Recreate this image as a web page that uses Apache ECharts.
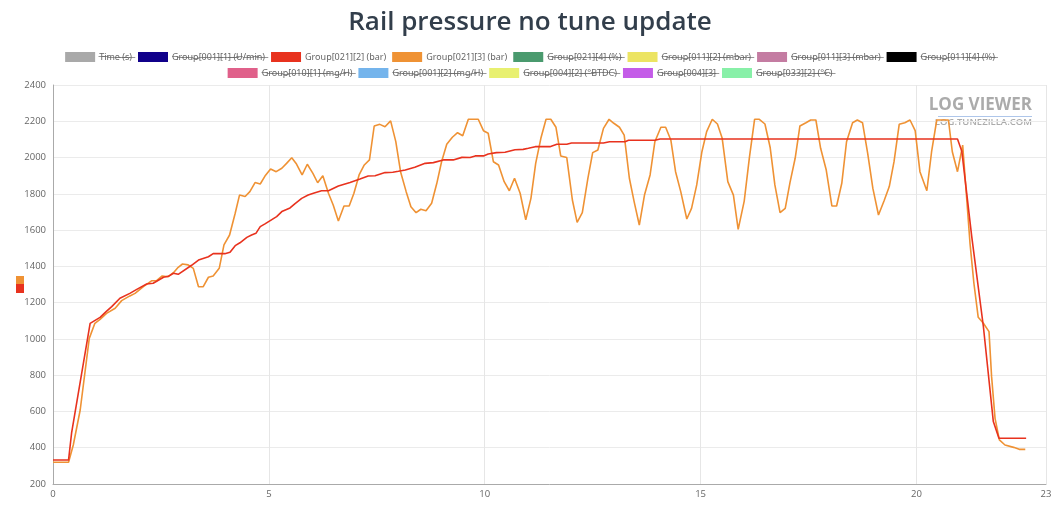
<!DOCTYPE html>
<html>
<head>
<meta charset="utf-8">
<title>Rail pressure no tune update</title>
<script src="https://cdn.jsdelivr.net/npm/echarts@6/dist/echarts.min.js"></script>
<style>
    html, body { margin: 0; padding: 0; background: #fff; }
    #chart-container { width: 1060px; height: 505px; }
</style>
</head>
<body>
<div id="chart-container"></div>
<script>
    'use strict';

    // legend entries, in log order (only the two rail pressure channels are shown)
    var seriesNames = [
        'Time (s)', 'Group[001][1] (U/min)', 'Group[021][2] (bar)', 'Group[021][3] (bar)',
        'Group[021][4] (%)', 'Group[011][2] (mbar)', 'Group[011][3] (mbar)', 'Group[011][4] (%)',
        'Group[010][1] (mg/H)', 'Group[001][2] (mg/H)', 'Group[004][2] (°BTDC)', 'Group[004][3]',
        'Group[033][2] (°C)'
    ];
    var seriesColors = [
        '#a9a9a9', '#10008a', '#e8321e', '#ef9234',
        '#4a9a6e', '#ece462', '#c47ca2', '#000000',
        '#e0608a', '#74b4ec', '#e8f070', '#c45ce8',
        '#88f0a8'
    ];
    var visibleNames = ['Group[021][2] (bar)', 'Group[021][3] (bar)'];
    var legendRowBreak = 8;

    // Group[021][2] (bar) - specified rail pressure
    var timeSpec = [0, 0.36, 0.43, 0.86, 1.09, 1.23, 1.36, 1.55, 1.78, 1.94,
        2.17, 2.32, 2.56, 2.67, 2.79, 2.90, 3.21, 3.37, 3.60, 3.71,
        3.98, 4.10, 4.22, 4.33, 4.49, 4.60, 4.70, 4.80, 4.91, 5.18,
        5.30, 5.49, 5.60, 5.76, 5.91, 6.05, 6.22, 6.38, 6.61, 6.88,
        7.11, 7.30, 7.46, 7.69, 7.87, 8.00, 8.16, 8.38, 8.62, 8.81,
        9.04, 9.27, 9.47, 9.66, 9.78, 9.97, 10.08, 10.27, 10.47, 10.70,
        10.89, 11.01, 11.17, 11.51, 11.67, 11.90, 12.01, 12.75, 12.89, 13.25,
        13.33, 13.94, 14.06, 20.95, 21.05, 21.28, 21.55, 21.78, 21.91, 22.54];
    var railSpec = [332, 332, 480, 1086, 1119, 1150, 1178, 1224, 1251, 1273,
        1303, 1307, 1340, 1345, 1362, 1356, 1406, 1435, 1453, 1470,
        1470, 1478, 1514, 1530, 1560, 1573, 1582, 1619, 1634, 1674,
        1702, 1722, 1745, 1775, 1793, 1805, 1817, 1817, 1843, 1863,
        1882, 1898, 1900, 1917, 1919, 1924, 1931, 1946, 1968, 1972,
        1987, 1987, 2001, 2000, 2009, 2009, 2020, 2027, 2029, 2043,
        2045, 2051, 2060, 2060, 2073, 2073, 2080, 2080, 2087, 2087,
        2095, 2095, 2102, 2102, 2035, 1564, 1067, 544, 452, 452];

    // Group[021][3] (bar) - actual rail pressure
    var timeAct = [0, 0.36, 0.47, 0.63, 0.84, 0.97, 1.09, 1.24, 1.44, 1.59,
        1.78, 1.90, 2.10, 2.29, 2.40, 2.53, 2.67, 2.79, 2.90, 3.00,
        3.13, 3.25, 3.37, 3.48, 3.60, 3.71, 3.85, 3.96, 4.09, 4.22,
        4.32, 4.45, 4.56, 4.68, 4.80, 4.91, 5.04, 5.17, 5.30, 5.41,
        5.53, 5.64, 5.77, 5.89, 6.02, 6.13, 6.25, 6.38, 6.49, 6.61,
        6.74, 6.86, 6.97, 7.09, 7.21, 7.33, 7.44, 7.57, 7.69, 7.82,
        7.94, 8.05, 8.18, 8.29, 8.41, 8.52, 8.64, 8.77, 8.89, 9.00,
        9.12, 9.25, 9.37, 9.49, 9.62, 9.74, 9.85, 9.97, 10.08, 10.20,
        10.32, 10.45, 10.57, 10.69, 10.82, 10.95, 11.07, 11.18, 11.30, 11.42,
        11.53, 11.65, 11.76, 11.90, 12.03, 12.14, 12.26, 12.39, 12.50, 12.62,
        12.75, 12.88, 12.99, 13.12, 13.23, 13.35, 13.46, 13.58, 13.70, 13.83,
        13.94, 14.08, 14.19, 14.31, 14.42, 14.54, 14.68, 14.79, 14.91, 15.03,
        15.14, 15.27, 15.39, 15.50, 15.63, 15.76, 15.87, 16.01, 16.13, 16.25,
        16.36, 16.49, 16.61, 16.72, 16.84, 16.96, 17.07, 17.19, 17.30, 17.44,
        17.55, 17.67, 17.78, 17.91, 18.04, 18.15, 18.27, 18.38, 18.52, 18.63,
        18.75, 18.87, 18.99, 19.12, 19.25, 19.37, 19.48, 19.60, 19.73, 19.85,
        19.97, 20.08, 20.24, 20.35, 20.47, 20.58, 20.74, 20.83, 20.95, 21.07,
        21.16, 21.24, 21.33, 21.43, 21.55, 21.68, 21.74, 21.82, 21.92, 22.05,
        22.25, 22.38, 22.52];
    var railAct = [320, 320, 415, 608, 1003, 1086, 1108, 1141, 1169, 1211,
        1237, 1251, 1290, 1321, 1321, 1347, 1343, 1365, 1395, 1413,
        1408, 1389, 1288, 1288, 1340, 1347, 1389, 1518, 1573, 1693,
        1793, 1785, 1812, 1862, 1854, 1898, 1937, 1922, 1941, 1968,
        1999, 1964, 1904, 1963, 1913, 1861, 1900, 1803, 1738, 1650,
        1733, 1733, 1803, 1904, 1959, 1987, 2174, 2183, 2170, 2202,
        2088, 1922, 1812, 1729, 1696, 1715, 1707, 1748, 1858, 1977,
        2073, 2112, 2137, 2120, 2211, 2211, 2211, 2148, 2134, 1977,
        1959, 1867, 1817, 1886, 1803, 1656, 1775, 1968, 2106, 2211,
        2211, 2167, 2009, 2000, 1766, 1643, 1696, 1886, 2027, 2042,
        2161, 2211, 2189, 2167, 2124, 1886, 1757, 1628, 1793, 1904,
        2087, 2167, 2167, 2097, 1922, 1812, 1661, 1720, 1849, 2032,
        2143, 2211, 2185, 2106, 1867, 1793, 1604, 1760, 2000, 2211,
        2211, 2185, 2057, 1849, 1696, 1720, 1862, 1996, 2174, 2192,
        2207, 2207, 2051, 1931, 1733, 1733, 1858, 2087, 2192, 2207,
        2192, 2023, 1830, 1683, 1762, 1840, 1977, 2183, 2192, 2207,
        2148, 1922, 1817, 2032, 2207, 2207, 2207, 2032, 1922, 2069,
        1784, 1527, 1307, 1119, 1086, 1040, 792, 562, 443, 415,
        402, 391, 391];

    var xTicks = {min: 0, max: 23, interval: 5};
    var yTicks = {min: 200, max: 2400, interval: 200};

    function zip(xs, ys) {
        return xs.map(function(x, i) { return [x, ys[i]]; });
    }

    // hidden datasets get a struck-through label, like the original log viewer
    function strike(text) {
        return text.split('').map(function(c) { return c + '\u0336'; }).join('');
    }

    var dataByName = {
        'Group[021][2] (bar)': zip(timeSpec, railSpec),
        'Group[021][3] (bar)': zip(timeAct, railAct)
    };

    var series = seriesNames.map(function(name, i) {
        return {
            name: name,
            type: 'line',
            data: dataByName[name] || [],
            showSymbol: false,
            color: seriesColors[i],
            lineStyle: {width: 1.6, color: seriesColors[i]},
            z: name === 'Group[021][2] (bar)' ? 3 : 2
        };
    });

    // two centred legend rows
    function legendRow(names, top) {
        return {
            data: names,
            top: top,
            left: 'center',
            itemWidth: 30,
            itemHeight: 10,
            itemGap: 6,
            icon: 'rect',
            textStyle: {fontSize: 9, lineHeight: 10, color: '#666', fontFamily: '"Noto Sans"', padding: [0, 0, 0, -1]},
            formatter: function(name) {
                return visibleNames.indexOf(name) >= 0 ? name : strike(name);
            },
            selectedMode: false
        };
    }

    var chart = echarts.init(document.getElementById('chart-container'));
    chart.setOption({
        animation: false,
        textStyle: {fontFamily: 'Open Sans'},
        title: {
            text: 'Rail pressure no tune update',
            left: 'center',
            top: 5,
            textStyle: {fontFamily: 'Open Sans', fontSize: 26, fontWeight: 600, color: '#323e4b'}
        },
        legend: [
            legendRow(seriesNames.slice(0, legendRowBreak), 47),
            legendRow(seriesNames.slice(legendRowBreak), 63)
        ],
        grid: {left: 53, right: 14, top: 85, bottom: 21, containLabel: false},
        xAxis: {
            type: 'value',
            min: xTicks.min,
            max: xTicks.max,
            interval: xTicks.interval,
            axisLine: {lineStyle: {color: '#aaa'}},
            axisTick: {show: false},
            axisLabel: {color: '#666', fontSize: 9.5, margin: 5, showMaxLabel: true},
            splitLine: {lineStyle: {color: '#e6e6e6'}}
        },
        yAxis: {
            type: 'value',
            min: yTicks.min,
            max: yTicks.max,
            interval: yTicks.interval,
            axisLine: {show: true, lineStyle: {color: '#aaa'}},
            axisTick: {show: false},
            axisLabel: {
                color: '#666', fontSize: 9.5, margin: 7,
                formatter: function(v) { return String(v); }
            },
            splitLine: {lineStyle: {color: '#ebebeb'}}
        },
        graphic: [
            // colour keys of the two y scales
            {type: 'rect', left: 16, top: 276, shape: {width: 8, height: 8}, style: {fill: '#ef9234'}},
            {type: 'rect', left: 16, top: 284, shape: {width: 8, height: 9}, style: {fill: '#e8321e'}},
            // watermark
            {
                type: 'text', right: 28, top: 97,
                style: {text: 'LOG VIEWER', font: 'bold 17px "Open Sans"', fill: 'rgba(150,150,150,0.8)'}
            },
            {type: 'rect', left: 938, top: 116, shape: {width: 94, height: 1}, style: {fill: 'rgba(120,160,220,0.6)'}},
            {
                type: 'text', right: 28, top: 117,
                style: {text: 'LOG.TUNEZILLA.COM', font: '600 9.5px "Open Sans"', fill: 'rgba(150,150,150,0.8)'}
            }
        ],
        series: series
    });
</script>
</body>
</html>
